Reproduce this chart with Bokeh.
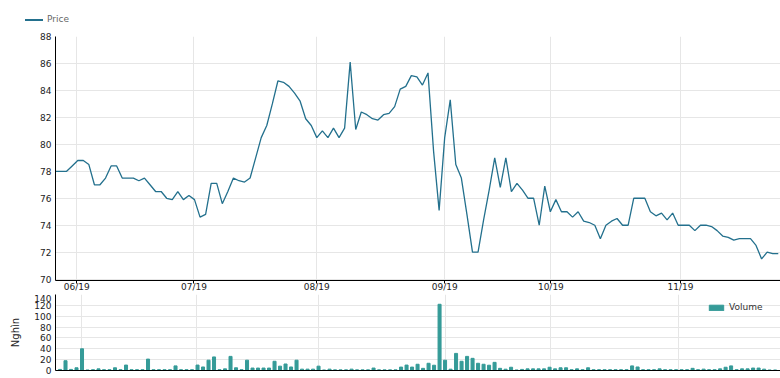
from bokeh.plotting import figure
from bokeh.layouts import column
from bokeh.models import Legend, LegendItem, FixedTicker, Range1d, Div, AllLabels
from bokeh.embed import file_html
from bokeh.resources import INLINE

# ---- data ----
price = [
    78.0, 78.0, 78.0, 78.4, 78.8, 78.8, 78.5, 77.0, 77.0, 77.5,
    78.4, 78.4, 77.5, 77.5, 77.5, 77.3, 77.5, 77.0, 76.5, 76.5,
    76.0, 75.9, 76.5, 75.9, 76.2, 75.9, 74.6, 74.8, 77.1, 77.1,
    75.6, 76.5, 77.5, 77.3, 77.2, 77.5, 79.0, 80.5, 81.4, 83.0,
    84.7, 84.6, 84.3, 83.8, 83.2, 81.9, 81.4, 80.5, 81.0, 80.5,
    81.2, 80.5, 81.2, 86.1, 81.1, 82.4, 82.2, 81.9, 81.8, 82.2,
    82.3, 82.8, 84.1, 84.3, 85.1, 85.0, 84.4, 85.3, 79.5, 75.1,
    80.5, 83.3, 78.5, 77.5, 74.8, 72.0, 72.0, 74.4, 76.6, 79.0,
    76.8, 79.0, 76.5, 77.1, 76.6, 76.0, 76.0, 74.0, 76.9, 75.0,
    75.9, 75.0, 75.0, 74.6, 75.0, 74.3, 74.2, 74.0, 73.0, 74.0,
    74.3, 74.5, 74.0, 74.0, 76.0, 76.0, 76.0, 75.0, 74.7, 74.9,
    74.4, 74.9, 74.0, 74.0, 74.0, 73.6, 74.0, 74.0, 73.9, 73.6,
    73.2, 73.1, 72.9, 73.0, 73.0, 73.0, 72.5, 71.5, 72.0, 71.9,
    71.9,
]
volume = [
    2, 18, 2, 5, 40, 1, 1.5, 3, 1.5, 1.5,
    5, 1.5, 10, 1.5, 1.5, 1.5, 21, 1.5, 1.5, 1.5,
    1.5, 8.5, 1.5, 1.5, 1.5, 10, 6.5, 19, 25, 1.5,
    3, 26, 5, 1.5, 19, 4.5, 4.5, 4.5, 4.5, 17,
    8, 12, 6.5, 19, 2.5, 2.5, 2.5, 8, 1, 2.5,
    1.2, 1.2, 1.2, 2.5, 1.2, 1.2, 1.2, 4.5, 1.2, 1.2,
    1.2, 1.2, 6.3, 10, 6.3, 11.5, 4, 13.3, 9.7, 122,
    19, 2.4, 31.5, 17, 26, 22.4, 13.3, 11.5, 9.7, 15,
    4, 2.4, 6, 1, 2, 3, 3, 3, 3, 6,
    3, 5, 5, 1.5, 3, 1.5, 5, 1.5, 1.5, 1.5,
    1.5, 1.5, 1.5, 1.5, 8.5, 6.5, 1.5, 1.5, 1.5, 3,
    1.5, 1.5, 1.5, 1.5, 1.5, 4, 1.5, 2.5, 1.5, 1.5,
    3, 6, 8.5, 1.5, 3, 3, 4.5, 4.5, 2.5, 1,
    1,
]
month_labels = ["06/19", "07/19", "08/19", "09/19", "10/19", "11/19"]
month_pos = [3.83, 24.9, 47.0, 70.0, 89.1, 112.4]
price_ticks = list(range(70, 89, 2))
volume_ticks = list(range(0, 141, 20))

idx = list(range(len(price)))

LINE = "#23708d"
BAR = "#359b98"
GRID = "#e6e6e6"
FONT = "DejaVu Sans"
TXT = "#222222"

H0 = 30
H1 = 294 - H0

# ---- legend strip on top (HTML) ----
legend_html = (
    '<div style="position:relative;width:780px;height:30px;margin:0;padding:0;">'
    f'<div style="position:absolute;left:25px;top:19px;width:18px;height:2px;background:{LINE};"></div>'
    f'<div style="position:absolute;left:47px;top:14px;font-family:\'{FONT}\';font-size:9px;'
    'line-height:11px;color:#666666;white-space:nowrap;">Price</div>'
    '</div>'
)
top = Div(text=legend_html, width=780, height=H0, margin=0)

# ---- price chart ----
p = figure(width=780, height=H1, output_backend="svg", toolbar_location=None,
           x_range=Range1d(0, len(price) - 1 + 0.4), y_range=Range1d(69.9, 88),
           min_border_left=55, min_border_right=0, min_border_top=6,
           min_border_bottom=10)
p.outline_line_color = None
p.background_fill_color = "white"
p.border_fill_color = "white"

p.line(idx, price, color=LINE, line_width=1.3)

p.xaxis.ticker = FixedTicker(ticks=month_pos)
p.xaxis.major_label_overrides = {pos: lab for pos, lab in zip(month_pos, month_labels)}
p.xaxis.major_tick_out = 3
p.xaxis.major_tick_in = 0
p.xaxis.minor_tick_line_color = None
p.xaxis.axis_line_color = "black"
p.xaxis.major_tick_line_color = "black"
p.xaxis.major_label_standoff = -2
p.xaxis.major_label_text_font = FONT
p.xaxis.major_label_text_font_size = "9px"
p.xaxis.major_label_text_color = TXT

p.yaxis.ticker = FixedTicker(ticks=price_ticks)
p.yaxis.major_label_policy = AllLabels()
p.yaxis.major_tick_out = 0
p.yaxis.major_tick_in = 0
p.yaxis.minor_tick_line_color = None
p.yaxis.axis_line_color = "black"
p.yaxis.major_label_standoff = 4
p.yaxis.major_label_text_font = FONT
p.yaxis.major_label_text_font_size = "9px"
p.yaxis.major_label_text_color = TXT

p.xgrid.ticker = FixedTicker(ticks=month_pos)
p.ygrid.ticker = FixedTicker(ticks=price_ticks)
p.xgrid.grid_line_color = GRID
p.ygrid.grid_line_color = GRID

# ---- volume chart ----
v = figure(width=780, height=378 - H0 - H1, output_backend="svg", toolbar_location=None,
           x_range=Range1d(-0.82, len(volume) - 1 + 0.98), y_range=Range1d(0, 140),
           min_border_left=55, min_border_right=0, min_border_top=0,
           min_border_bottom=8)
v.outline_line_color = None
v.background_fill_color = "white"
v.border_fill_color = "white"

vr = v.vbar(x=idx, top=volume, width=0.55, color=BAR)

v.xaxis.ticker = FixedTicker(ticks=[])
v.xaxis.major_label_standoff = 0
v.xaxis.major_tick_out = 0
v.xaxis.major_tick_in = 0
v.xaxis.minor_tick_line_color = None
v.xaxis.axis_line_color = "black"

v.yaxis.ticker = FixedTicker(ticks=volume_ticks)
v.yaxis.major_label_policy = AllLabels()
v.yaxis.major_tick_out = 0
v.yaxis.major_tick_in = 0
v.yaxis.minor_tick_line_color = None
v.yaxis.axis_line_color = "black"
v.yaxis.major_label_standoff = 4
v.yaxis.major_label_text_font = FONT
v.yaxis.major_label_text_font_size = "9px"
v.yaxis.major_label_text_color = TXT
v.yaxis.axis_label = "Nghìn"
v.yaxis.axis_label_text_font = FONT
v.yaxis.axis_label_text_font_size = "10px"
v.yaxis.axis_label_text_font_style = "normal"
v.yaxis.axis_label_text_color = TXT
v.yaxis.axis_label_standoff = 10

v.xgrid.ticker = FixedTicker(ticks=month_pos)
v.ygrid.ticker = FixedTicker(ticks=volume_ticks)
v.xgrid.grid_line_color = GRID
v.ygrid.grid_line_color = GRID

lg2 = Legend(items=[LegendItem(label="Volume", renderers=[vr])],
             location=(652, 58))
lg2.padding = 0
lg2.margin = 0
lg2.spacing = 0
lg2.glyph_width = 18
lg2.glyph_height = 7
lg2.label_height = 9
lg2.label_standoff = 4
lg2.label_text_font = FONT
lg2.label_text_font_size = "9px"
lg2.label_text_color = "#333333"
lg2.border_line_color = None
lg2.background_fill_alpha = 0
v.add_layout(lg2)

layout = column(top, p, v, spacing=0)
open("out.html", "w").write(file_html(layout, INLINE))
